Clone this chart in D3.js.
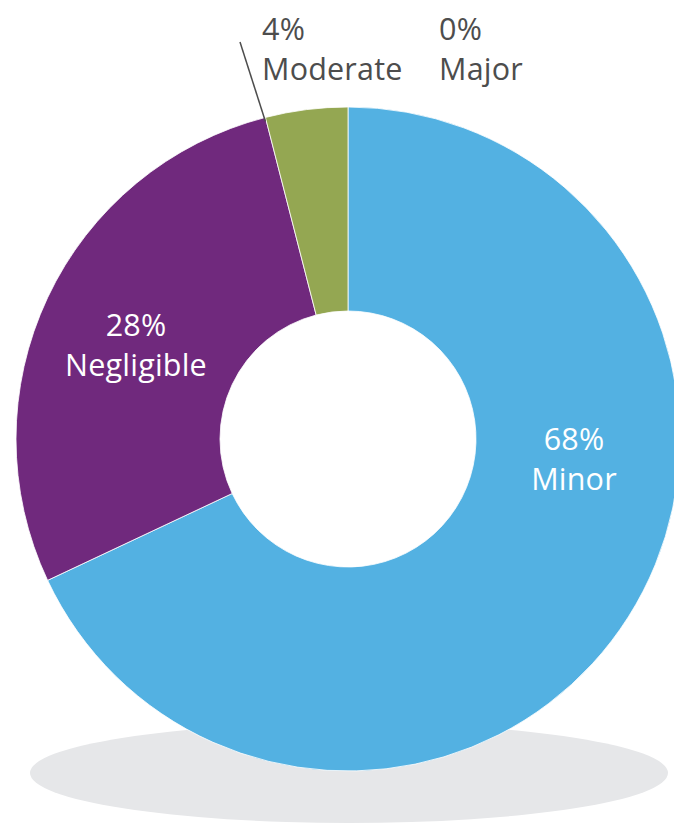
<!DOCTYPE html>
<html>
<head>
<meta charset="utf-8">
<script src="https://cdn.jsdelivr.net/npm/d3@7"></script>
<style>
  body { margin: 0; background: #fff; }
  svg { display: block; }
</style>
</head>
<body>
<script>
// donut chart
let w = 674;
let h = 824;

let categories = ["Minor", "Negligible", "Moderate", "Major"];
let values = [68, 28, 4, 0];
let colors = ["#53b1e2", "#70297d", "#94a752", "#c0392b"];

let cx = 348, cy = 439;
let outerR = 332, innerR = 128;

let svg = d3.select('body').append('svg')
    .attr('width', w)
    .attr('height', h);

// shadow under the ring
svg.append('ellipse')
    .attr('cx', 349)
    .attr('cy', 773)
    .attr('rx', 319)
    .attr('ry', 50)
    .attr('fill', '#e6e7e9');

let pie = d3.pie().sort(null).value(d => d);
let arc = d3.arc().innerRadius(innerR).outerRadius(outerR);

let g = svg.append('g').attr('transform', `translate(${cx},${cy})`);

g.selectAll('path')
    .data(pie(values))
    .enter()
    .append('path')
    .attr('d', arc)
    .attr('fill', (d, i) => colors[i])
    .attr('stroke', '#fff')
    .attr('stroke-width', d => d.value > 0 ? 0.8 : 0);

// labels: [x, y of first line, anchor, colour]
let labelPos = [
    [574, 450, 'middle', '#fff'],
    [136, 336, 'middle', '#fff'],
    [262, 40, 'start', '#4d4d4d'],
    [439, 40, 'start', '#4d4d4d']
];

categories.forEach((c, i) => {
    let p = labelPos[i];
    let t = svg.append('text')
        .attr('x', p[0])
        .attr('y', p[1])
        .attr('text-anchor', p[2])
        .attr('fill', p[3])
        .attr('font-family', '"Open Sans", sans-serif')
        .attr('font-size', 30.5)
        .attr('letter-spacing', 0.2);
    t.append('tspan').attr('x', p[0]).text(values[i] + '%');
    t.append('tspan').attr('x', p[0]).attr('dy', 40).text(c);
});

// leader line for the small slice
let mid = pie(values)[2];
svg.append('line')
    .attr('x1', 240)
    .attr('y1', 42)
    .attr('x2', cx + Math.sin(mid.startAngle) * outerR)
    .attr('y2', cy - Math.cos(mid.startAngle) * outerR + 4)
    .attr('stroke', '#4d4d4d')
    .attr('stroke-width', 1.5);
</script>
</body>
</html>
